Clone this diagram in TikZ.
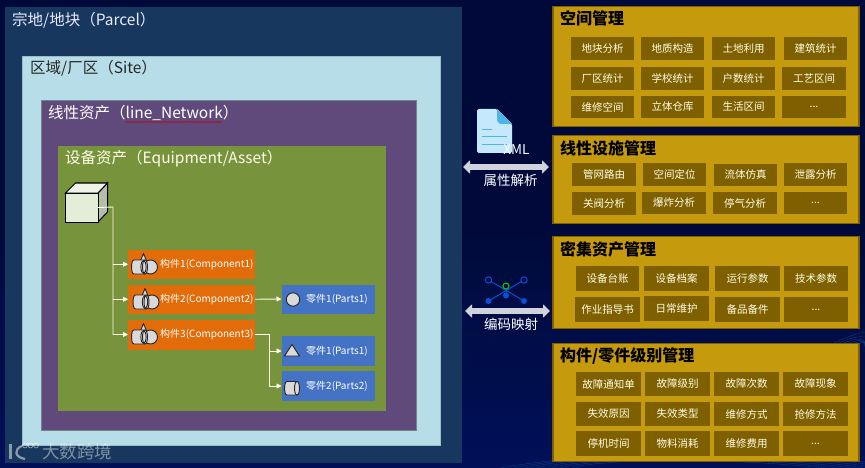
\documentclass[tikz,border=0pt]{standalone}
\usepackage{fontspec}
\setmainfont{Noto Sans CJK SC}
\usetikzlibrary{arrows.meta,decorations.pathmorphing}
\definecolor{bgnavy}{HTML}{000A3A}
\definecolor{bglow}{HTML}{001058}
\definecolor{parcelc}{HTML}{17375E}
\definecolor{sitec}{HTML}{B7DEE8}
\definecolor{linec}{HTML}{604A7B}
\definecolor{equipc}{HTML}{77933C}
\definecolor{compc}{HTML}{E36C0A}
\definecolor{partc}{HTML}{4472C4}
\definecolor{panelc}{HTML}{C59A0C}
\definecolor{panelb}{HTML}{7F6000}
\definecolor{cellc}{HTML}{7F6000}
\definecolor{iconc}{HTML}{D9D9D9}
\definecolor{arrowc}{HTML}{D0D3DC}
\definecolor{netblue}{HTML}{0A50D8}
\definecolor{cubefront}{HTML}{E3EDD8}
\definecolor{cubetop}{HTML}{EEF3E8}
\definecolor{cubeside}{HTML}{B5BFA8}
\definecolor{docbody}{HTML}{C5E8FA}
\definecolor{docfold}{HTML}{4DB5E8}
\newcounter{cellno}
\tikzset{
  box/.style={anchor=north west,inner sep=0pt,outer sep=0pt},
  regiontitle/.style={anchor=west,inner sep=0pt,font=\fontsize{15.5}{17}\selectfont},
  paneltitle/.style={anchor=west,inner sep=0pt,text=black,font=\bfseries\fontsize{16}{18}\selectfont},
  cellbox/.style={box,fill=cellc,text=white!90!yellow,font=\fontsize{10.5}{12}\selectfont,align=center},
  panelbox/.style={box,fill=panelc,draw=panelb,line width=1.2pt},
  compbox/.style={box,fill=compc},
  partbox/.style={box,fill=partc},
  smalltext/.style={anchor=west,inner sep=0pt,text=white,font=\fontsize{10}{12}\selectfont},
  conn/.style={draw=white!92!yellow,line width=0.9pt,-{Triangle[length=5pt,width=5pt]}},
  connplain/.style={draw=white!92!yellow,line width=0.9pt},
  icon/.style={draw=black!85,fill=iconc,line width=0.9pt,line join=round},
  midlabel/.style={inner sep=0pt,text=white,font=\fontsize{13.5}{15}\selectfont},
  netline/.style={draw=netblue,line width=1pt},
  widearrow/.style={arrowc,line width=5.5pt,{Triangle[length=7pt,width=13pt]}-{Triangle[length=7pt,width=13pt]}},
  wmline/.style={draw=white,opacity=.5},
  meshline/.style={draw=cyan!60!blue,opacity=.4,line width=.4pt},
}
\newcommand{\cellat}[5]{\stepcounter{cellno}\node[cellbox,minimum width=#3pt,minimum height=#4pt] (cell\thecellno) at (#1,#2) {#5};}
\newcommand{\cylicon}[4]{% x left, x right, y top, y bottom
  \draw[icon] (#1+2.5,#3) -- (#2-2.5,#3) .. controls (#2+.8,#3) and (#2+.8,#4) .. (#2-2.5,#4) -- (#1+2.5,#4) .. controls (#1-.8,#4) and (#1-.8,#3) .. (#1+2.5,#3) -- cycle;
  \draw[icon,fill=none] (#2-2.5,#3) .. controls (#2-5.8,#3) and (#2-5.8,#4) .. (#2-2.5,#4);
}
\newcommand{\compicon}[2]{% x,y of the left top of the cylinder
  \begin{scope}[shift={(#1,#2)}]
    \draw[icon] (6,8) -- (12,-6.5) -- (18,8) -- cycle;
    \draw[icon] (19,7) circle[radius=7];
    \cylicon{0}{16}{0}{14}
    \draw[icon,fill=none] (12,7) ellipse[x radius=2.6,y radius=6.5];
  \end{scope}
}
\begin{document}
\begin{tikzpicture}[x=1pt,y=-1pt]
\useasboundingbox (0,0) rectangle (865,468);
\fill[bgnavy] (0,0) rectangle (865,230);
\shade[top color=bgnavy,bottom color=bglow] (0,230) rectangle (865,468);
% background mesh
\foreach \d in {0,4,...,24}{
  \draw[meshline] (500+\d*3,468) .. controls (600,450+\d/3) and (760,448+\d/3) .. (865,462+\d/2);
}
\foreach \d in {0,5,...,25}{
  \draw[meshline] (820+\d,350) .. controls (835+\d,342) and (850+\d,335) .. (865,332+\d);
}
% nested regions
\node[box,fill=parcelc,minimum width=457pt,minimum height=456pt] (parcel) at (5,7) {};
\node[box,fill=sitec,draw=sitec!85!black,line width=.5pt,minimum width=418pt,minimum height=389pt] (site) at (22,56) {};
\node[box,fill=linec,draw=sitec!60!black,line width=.5pt,minimum width=375pt,minimum height=330pt] (linenet) at (41,100) {};
\node[box,fill=equipc,minimum width=328pt,minimum height=265pt] (equip) at (58,146) {};
\node[regiontitle,text=white!92!blue] (t1) at (12,20) {宗地/地块（Parcel）};
\node[regiontitle,text=black!85] (t2) at (30,68.5) {区域/厂区（Site）};
\node[regiontitle,text=white] (t3) at (48,112.5) {线性资产（line\_Network）};
\draw[red!75!black,line width=.5pt,decorate,decoration={snake,amplitude=.5pt,segment length=2.5pt}] (126,122) -- (222,122);
\node[regiontitle,text=white!92!yellow] (t4) at (65,158.5) {设备资产（Equipment/Asset）};
% cube
\draw[draw=black,line width=1pt,fill=cubeside] (98,193) -- (107.5,183) -- (107.5,212) -- (98,222) -- cycle;
\draw[draw=black,line width=1pt,fill=cubetop] (65.5,193) -- (75.5,183) -- (107.5,183) -- (98,193) -- cycle;
\node[box,draw=black,line width=1pt,fill=cubefront,minimum width=32.5pt,minimum height=29pt] (cube) at (65.5,193) {};
% components
\node[compbox,minimum width=127pt,minimum height=28.5pt] (comp1) at (128,250) {};
\node[compbox,minimum width=127pt,minimum height=29.5pt] (comp2) at (128,284.5) {};
\node[compbox,minimum width=127pt,minimum height=30pt] (comp3) at (128,319.5) {};
\node[smalltext] (c1t) at (160,264.5) {构件1(Component1)};
\node[smalltext] (c2t) at (160,299.5) {构件2(Component2)};
\node[smalltext] (c3t) at (160,334.5) {构件3(Component3)};
\compicon{131.5}{260}
\compicon{133}{295}
\compicon{131.5}{330}
% parts
\node[partbox,minimum width=93pt,minimum height=29pt] (part1) at (281.5,284.5) {};
\node[partbox,minimum width=93pt,minimum height=30pt] (part2) at (281.5,336) {};
\node[partbox,minimum width=93pt,minimum height=30pt] (part3) at (281.5,371) {};
\node[smalltext] (p1t) at (306,299.5) {零件1(Parts1)};
\node[smalltext] (p2t) at (306,351) {零件1(Parts1)};
\node[smalltext] (p3t) at (306,386.5) {零件2(Parts2)};
\draw[icon] (293,299.5) circle[radius=6.7];
\draw[icon] (284.5,356) -- (292,344.5) -- (299.5,356) -- cycle;
\cylicon{284.5}{299.5}{381.5}{395}
% connectors
\coordinate (trunktop) at (113,207);
\coordinate (trunkbot) at (113,334.5);
\coordinate (branch) at (269,334.5);
\draw[connplain] (cube.east) -- (trunktop) -- (trunkbot);
\draw[conn] (trunktop |- comp1.west) -- (comp1.west);
\draw[conn] (trunktop |- comp2.west) -- (comp2.west);
\draw[conn] (trunkbot) -- (comp3.west);
\draw[conn] (comp2.east) -- (part1.west);
\draw[connplain] (comp3.east) -- (branch) -- (branch |- part3.west);
\draw[conn] (branch |- part2.west) -- (part2.west);
\draw[conn] (branch |- part3.west) -- (part3.west);
% document icon
\fill[rounded corners=1.5pt,fill=docbody] (477,109) -- (497,109) -- (512,124) -- (512,153) -- (477,153) -- cycle;
\fill[fill=docfold] (497,109) -- (512,124) -- (500,124) -- (497,121) -- cycle;
\foreach \yy/\xe in {130/492,137/507,144.5/507}{
  \draw[docfold,line width=1pt] (482,\yy) -- (\xe,\yy);
}
\node[midlabel] (xml) at (516.5,150) {XML};
\coordinate (d1l) at (463,167);
\coordinate (d1r) at (549,167);
\coordinate (d2l) at (465,311);
\coordinate (d2r) at (550,311);
\draw[widearrow] (d1l) -- (d1r);
\draw[widearrow] (d2l) -- (d2r);
\node[midlabel] (l1) at (510.5,180) {属性解析};
\node[midlabel] (l2) at (511,324) {编码映射};
% network icon
\coordinate (n1) at (488.5,280);
\coordinate (n2) at (524,280);
\coordinate (n3) at (488.5,301);
\coordinate (n4) at (506,295.5);
\coordinate (n5) at (524,301);
\draw[netline] (n1) -- (n5);
\draw[netline] (n2) -- (n3);
\draw[netline] (n4) -- (506,286);
\draw[netblue,fill=bgnavy,line width=1pt] (n1) circle[radius=3.2];
\draw[netblue,fill=bgnavy,line width=1pt] (n2) circle[radius=3.2];
\fill[netblue] (n3) circle[radius=3];
\fill[netblue] (n4) circle[radius=3];
\fill[netblue] (n5) circle[radius=3];
\draw[green!80!black,fill=bgnavy,line width=1.1pt] (506,286) circle[radius=3];
% panels
\node[panelbox,minimum width=306pt,minimum height=120pt] (panelA) at (553,6.5) {};
\node[panelbox,minimum width=306pt,minimum height=88pt] (panelB) at (553,135.5) {};
\node[panelbox,minimum width=306pt,minimum height=92pt] (panelC) at (553,236.5) {};
\node[panelbox,minimum width=306pt,minimum height=118pt] (panelD) at (553,343.5) {};
\node[paneltitle] (ta) at (560,18.5) {空间管理};
\node[paneltitle] (tb) at (560,148.5) {线性设施管理};
\node[paneltitle] (tc) at (560,249.5) {密集资产管理};
\node[paneltitle] (td) at (560,356) {构件/零件级别管理};
% panel A cells
\cellat{571}{37}{63}{23}{地块分析}
\cellat{641}{37}{63}{23}{地质构造}
\cellat{712}{37}{63}{23}{土地利用}
\cellat{784}{37}{63}{23}{建筑统计}
\cellat{571}{67}{63}{23}{厂区统计}
\cellat{641}{67}{63}{23}{学校统计}
\cellat{712}{67}{63}{23}{户数统计}
\cellat{782}{67}{64}{23}{工艺区间}
\cellat{571}{96}{63}{22}{维修空间}
\cellat{641}{96}{63}{22}{立体仓库}
\cellat{712}{96}{63}{22}{生活区间}
\cellat{782}{96}{64}{22}{...}
% panel B cells
\cellat{572}{163}{64}{23}{管网路由}
\cellat{643}{163}{63}{23}{空间定位}
\cellat{714}{164}{63}{22}{流体仿真}
\cellat{784}{163}{63}{23}{泄露分析}
\cellat{572}{192}{64}{23}{关阀分析}
\cellat{642}{192}{64}{22}{爆炸分析}
\cellat{713}{192}{64}{22}{停气分析}
\cellat{784}{192}{63}{22}{...}
% panel C cells
\cellat{576}{266}{63}{25}{设备台账}
\cellat{644}{266}{65}{25}{设备档案}
\cellat{715}{266}{65}{25}{运行参数}
\cellat{784}{266}{64}{25}{技术参数}
\cellat{575}{297}{65}{25}{作业指导书}
\cellat{644}{296}{65}{25}{日常维护}
\cellat{715}{297}{65}{25}{备品备件}
\cellat{784}{297}{64}{25}{...}
% panel D cells
\cellat{576}{372}{65}{24}{故障通知单}
\cellat{645}{372}{65}{24}{故障级别}
\cellat{714}{372}{65}{24}{故障次数}
\cellat{783}{372}{65}{24}{故障现象}
\cellat{576}{402}{65}{24}{失效原因}
\cellat{645}{402}{65}{24}{失效类型}
\cellat{714}{402}{65}{24}{维修方式}
\cellat{783}{402}{65}{24}{抢修方法}
\cellat{576}{431}{65}{25}{停机时间}
\cellat{645}{431}{65}{25}{物料消耗}
\cellat{714}{431}{65}{25}{维修费用}
\cellat{783}{431}{65}{25}{...}
% watermark
\node[anchor=west,inner sep=0pt,text=white,opacity=.45,font=\fontsize{17.5}{19}\selectfont] (wm) at (42,452) {大数跨境};
\draw[wmline,line width=2.2pt] (10.5,444) -- (10.5,459);
\draw[wmline,line width=2.2pt] (22,446) .. controls (14,449) and (14,457) .. (25,459);
\draw[wmline,line width=.8pt] (25,445.5) circle[radius=2.4];
\draw[wmline,line width=.8pt] (30.5,445.5) circle[radius=2.4];
\draw[wmline,line width=.8pt] (36,445.5) circle[radius=2.4];
\end{tikzpicture}
\end{document}
